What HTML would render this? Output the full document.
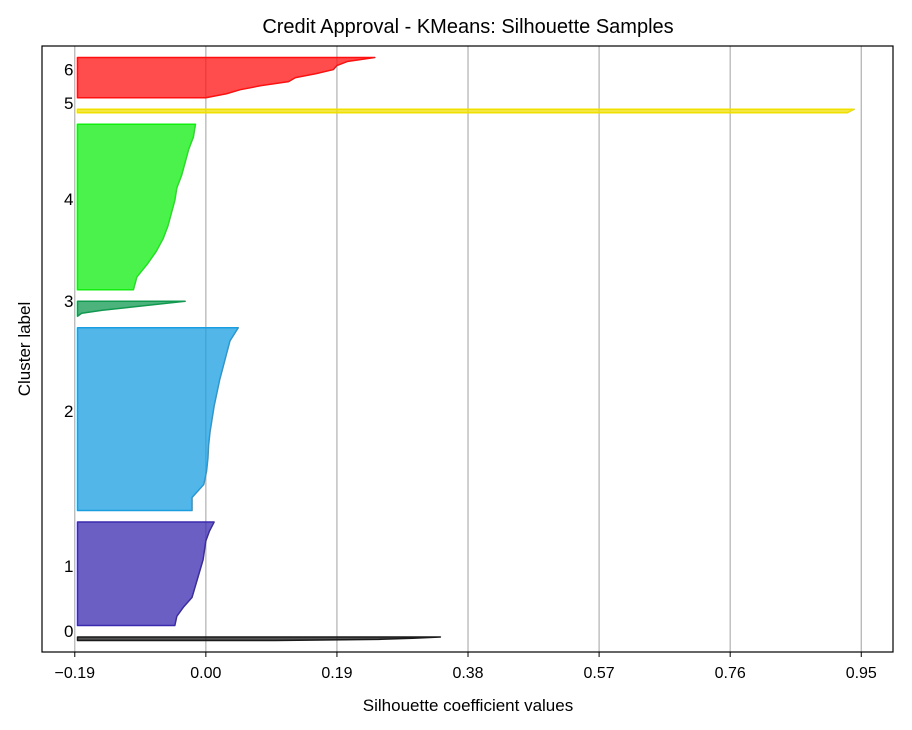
<!DOCTYPE html>
<html><head><meta charset="utf-8"><style>
body{margin:0;background:#fff;}
svg{display:block;font-family:"Liberation Sans","DejaVu Sans",sans-serif;}
</style></head><body>
<svg id="chart" width="912" height="730">
<rect width="912" height="730" fill="#fff"/>
<text x="468" y="33" font-size="20" text-anchor="middle">Credit Approval - KMeans: Silhouette Samples</text>
<g id="grid"></g>
<g id="marks"></g>
<g id="labels"></g>
<rect x="42" y="46" width="851" height="606" fill="none" stroke="#000" stroke-width="1.2"/>
<g id="xticks"></g>
<text x="468" y="711" font-size="17" text-anchor="middle">Silhouette coefficient values</text>
<text transform="translate(30,349) rotate(-90)" font-size="17" text-anchor="middle">Cluster label</text>
</svg>
<script>
const clusterLabels=["0","1","2","3","4","5","6"];
const clusterSizes=[3,90,159,13,144,3,35];
const c0=[0.34,0.30,0.25,0.10];
const c1=[0.012,0.005,0.0,-0.002,-0.004,-0.008,-0.012,-0.016,-0.02,-0.032,-0.042,-0.045];
const c2=[0.047,0.035,0.03,0.025,0.02,0.016,0.012,0.009,0.006,0.004,0.003,0.001,-0.003,-0.02,-0.02];
const c3=[-0.03,-0.07,-0.11,-0.15,-0.18,-0.186];
const c4=[-0.015,-0.018,-0.025,-0.03,-0.035,-0.042,-0.045,-0.05,-0.055,-0.062,-0.072,-0.085,-0.1,-0.105];
const c5=[0.94,0.935,0.93];
const c6=[0.245,0.205,0.19,0.185,0.16,0.13,0.12,0.08,0.05,0.03,0.0];
const clusterValues=[c0,c1,c2,c3,c4,c5,c6];
const clusterColors=["#1a1a1a","#3a2ab0","#1a9ee0","#109a50","#10ee10","#f0e000","#ff1010"];
const xTicks=[-0.19,0.0,0.19,0.38,0.57,0.76,0.95];
const xTickLabels=["\u22120.19","0.00","0.19","0.38","0.57","0.76","0.95"];
const gap=10, baseX=-0.186;
const L=42,R=893,T=46,B=652;
const xMin=-0.2375,xMax=0.996;
const yMax=clusterSizes.reduce((a,b)=>a+b,0)+gap*(clusterSizes.length+1);
function sx(v){return L+(v-xMin)/(xMax-xMin)*(R-L);}
function sy(v){return B-v/yMax*(B-T);}
const NS="http://www.w3.org/2000/svg";
function mk(t,a,p){const e=document.createElementNS(NS,t);for(const k in a)e.setAttribute(k,a[k]);p.appendChild(e);return e;}
const grid=document.getElementById('grid'),xt=document.getElementById('xticks');
xTicks.forEach((v,i)=>{
  const g=mk('line',{x1:sx(v),x2:sx(v),y1:T,y2:B,stroke:'#b0b0b0','stroke-width':1.2},grid);
  
  
  const tk=mk('line',{x1:sx(v),x2:sx(v),y1:B,y2:B+5,stroke:'#000'},xt);
  
  
  const t=mk('text',{x:sx(v),y:B+26,'font-size':16,'text-anchor':'middle'},xt);
  t.textContent=xTickLabels[i];
  
  
});
const marks=document.getElementById('marks'),labs=document.getElementById('labels');
let yl=gap;
clusterSizes.forEach((n,i)=>{
  const vals=clusterValues[i];
  const top=yl+n, pts=[];
  vals.forEach((v,j)=>{const yy=top-(vals.length>1?j/(vals.length-1):0)*n;pts.push(sx(v)+','+sy(yy));});
  pts.push(sx(baseX)+','+sy(yl));pts.push(sx(baseX)+','+sy(top));
  const p=mk('polygon',{points:pts.join(' '),fill:clusterColors[i],'fill-opacity':0.75,stroke:clusterColors[i],'stroke-width':1.5,'stroke-linejoin':'round'},marks);
  
  
  const t=mk('text',{x:64,y:sy(yl+n/2)-8+6,'font-size':17},labs);
  t.textContent=clusterLabels[i];
  
  
  yl=top+gap;
});
</script>
</body></html>
